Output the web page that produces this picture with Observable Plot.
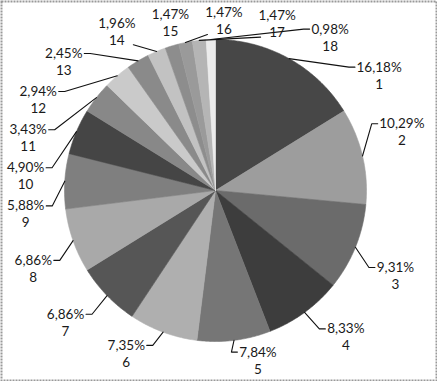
<!DOCTYPE html>
<html><head><meta charset="utf-8">
<script src="https://cdn.jsdelivr.net/npm/d3@7"></script>
<script src="https://cdn.jsdelivr.net/npm/@observablehq/plot@0.6"></script>
<style>body{margin:0;background:#fff}</style>
</head><body><div id="chart"></div>
<script>
const categories = ["1","2","3","4","5","6","7","8","9","10","11","12","13","14","15","16","17","18"];
const percents = [16.18, 10.29, 9.31, 8.33, 7.84, 7.35, 6.86, 6.86, 5.88, 4.90, 3.43, 2.94, 2.45, 1.96, 1.47, 1.47, 1.47, 0.98];
const greys = ["#474747","#9d9d9d","#6b6b6b","#3d3d3d","#767676","#afafaf","#565656","#a9a9a9","#7f7f7f","#454545","#888888","#cacaca","#8a8a8a","#c2c2c2","#8d8d8d","#9a9a9a","#b5b5b5","#ececec"];

const W = 437, H = 381, R = 151, CX = 215, CY = 190;
const RX = 190 / R, RY = 170 / R, SQ = 2.8, LINE_PX = 17, FONT = 13.5;
const PAD_X = 12, PAD_Y = 4;

const arcs = d3.pie().sort(null).value(d => d)(percents);
const deg = Math.PI / 180;
const fmt = v => v.toFixed(2).replace(".", ",") + "%";

// slice polygons in radius units (y up)
const sliceRows = [];
arcs.forEach((a, i) => {
  sliceRows.push({cat: categories[i], x: 0, y: 0});
  const steps = Math.max(2, Math.ceil((a.endAngle - a.startAngle) / (0.5 * deg)));
  for (let s = 0; s <= steps; s++) {
    const t = a.startAngle + (a.endAngle - a.startAngle) * s / steps;
    sliceRows.push({cat: categories[i], x: Math.sin(t), y: Math.cos(t)});
  }
  sliceRows.push({cat: categories[i], x: 0, y: 0});
});

// label layout: start at mid-angles on a rounded-rectangle ring, push neighbours apart until boxes stop overlapping
const n = arcs.length;
const mids = arcs.map(a => (a.startAngle + a.endAngle) / 2 / deg);
const ang = mids.slice();
const halfW = percents.map(v => fmt(v).length * 3.7 + 2);
const sp = v => Math.sign(v) * Math.pow(Math.abs(v), 2 / SQ);
const ring = a => [RX * sp(Math.sin(a * deg)), RY * sp(Math.cos(a * deg))];
const pos = a => { const [u, v] = ring(a); return [CX + R * u, CY - R * v]; };
for (let it = 0; it < 5000; it++) {
  let moved = false;
  for (let i = 0; i < n; i++) {
    const j = (i + 1) % n;
    const [xi, yi] = pos(ang[i]), [xj, yj] = pos(ang[j]);
    if (Math.abs(xi - xj) < halfW[i] + halfW[j] + PAD_X && Math.abs(yi - yj) < 2 * LINE_PX + PAD_Y) {
      ang[i] -= 0.1; ang[j] += 0.1; moved = true;
    }
  }
  if (!moved) break;
}
const labels = arcs.map((a, i) => {
  const [u, v] = ring(ang[i]);
  return {cat: categories[i], text: fmt(percents[i]) + "\n" + categories[i], x: u, y: v, mid: mids[i]};
});

// leader lines (computed in pixel space then converted back to radius units)
const leaderRows = [];
labels.forEach((l, i) => {
  const ex = CX + R * Math.sin(l.mid * deg), ey = CY - R * Math.cos(l.mid * deg);
  const lx = CX + R * l.x, ly = CY - R * l.y;
  const hw = halfW[i], top = ly - LINE_PX, bottom = ly + LINE_PX;
  let px, py, pts;
  if (ly < CY && Math.abs(lx - CX) < R * 0.7 && ey > bottom - 4) {
    // label sits above the pie: attach to the label's lower edge
    px = Math.min(Math.max(ex, lx - hw + 4), lx + hw - 4);
    py = bottom - 3;
    pts = [[ex, ey], [px, py]];
  } else if (ex >= lx - hw && ex <= lx + hw) {
    px = ex;
    py = ey > ly ? bottom - 2 : top;
    pts = [[ex, ey], [px, py]];
  } else {
    const side = ex < lx ? -1 : 1;
    px = lx + side * hw;
    py = ly - LINE_PX / 2 + 1;
    pts = [[ex, ey], [px + side * 6, py], [px, py]];
  }
  if (Math.hypot(px - ex, py - ey) < 12) return;
  pts.forEach(([x, y]) => leaderRows.push({cat: categories[i], x: (x - CX) / R, y: (CY - y) / R}));
});

const chart = Plot.plot({
  width: W, height: H,
  margin: 0,
  x: {domain: [-CX / R, (W - CX) / R], range: [0, W], axis: null},
  y: {domain: [CY / R, -(H - CY) / R], range: [0, H], axis: null},
  color: {domain: categories, range: greys},
  style: {fontFamily: "Lato, 'Open Sans', sans-serif", fontSize: "13px", background: "#fff"},
  marks: [
    Plot.line(sliceRows, {x: "x", y: "y", z: "cat", fill: "cat", stroke: "cat", strokeWidth: 0.6, curve: "linear"}),
    Plot.line(leaderRows, {x: "x", y: "y", z: "cat", stroke: "#111", strokeWidth: 1.1}),
    Plot.text(labels, {x: "x", y: "y", text: "text", fill: "#1a1a1a", fontSize: FONT, lineHeight: LINE_PX / FONT, lineAnchor: "middle"}),
    Plot.frame({inset: 1, stroke: "#999", strokeWidth: 2, strokeDasharray: "2,1"})
  ]
});
document.getElementById("chart").appendChild(chart);
</script>
</body></html>
